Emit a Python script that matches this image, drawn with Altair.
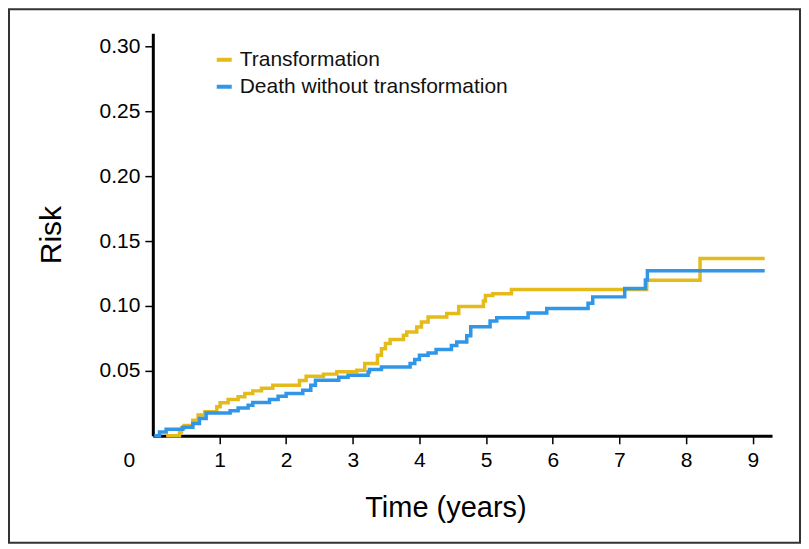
import altair as alt
import pandas as pd

# Cumulative incidence (step functions)
trans_time = [0.20, 0.40, 0.43, 0.47, 0.60, 0.68, 0.78, 0.96, 1.01, 1.13, 1.28, 1.38,
              1.50, 1.63, 1.80, 2.20, 2.30, 2.56, 2.76, 3.06, 3.18, 3.37, 3.43, 3.49,
              3.56, 3.76, 3.81, 3.96, 4.03, 4.13, 4.41, 4.59, 4.96, 4.99, 5.10, 5.38,
              7.41, 8.21, 9.18]
trans_risk = [0.000, 0.003, 0.006, 0.008, 0.012, 0.016, 0.0185, 0.0223, 0.0254, 0.028, 0.030, 0.0326,
              0.0346, 0.0367, 0.039, 0.0425, 0.0458, 0.0475, 0.0493, 0.0505, 0.0557, 0.062, 0.067, 0.071,
              0.0742, 0.0775, 0.080, 0.0838, 0.0877, 0.0915, 0.0942, 0.0995, 0.1038, 0.108, 0.1095, 0.1127,
              0.1198, 0.1366, 0.1366]

death_time = [0.02, 0.10, 0.20, 0.45, 0.60, 0.70, 0.80, 1.16, 1.28, 1.43, 1.50, 1.75,
              1.88, 2.00, 2.25, 2.37, 2.44, 2.79, 2.93, 3.23, 3.25, 3.43, 3.86, 3.93,
              4.00, 4.13, 4.25, 4.48, 4.56, 4.71, 4.77, 5.06, 5.16, 5.63, 5.91, 6.53,
              6.60, 7.08, 7.39, 7.42, 9.18]
death_risk = [0.000, 0.003, 0.005, 0.0065, 0.0095, 0.0134, 0.0175, 0.0192, 0.0215, 0.0236, 0.0257, 0.028,
              0.0305, 0.0326, 0.035, 0.039, 0.0428, 0.045, 0.0467, 0.0492, 0.051, 0.053, 0.0557, 0.0588,
              0.062, 0.0638, 0.0665, 0.0695, 0.0723, 0.077, 0.084, 0.0885, 0.091, 0.0945, 0.098, 0.102,
              0.107, 0.1135, 0.120, 0.1272, 0.1272]

series_names = ["Transformation", "Death without transformation"]
series_colors = ["#E4BB1B", "#3196E6"]

x_ticks = [0, 1, 2, 3, 4, 5, 6, 7, 8, 9]
y_ticks = [0.05, 0.10, 0.15, 0.20, 0.25, 0.30]

df = pd.concat([
    pd.DataFrame({"time": trans_time, "risk": trans_risk, "series": series_names[0], "order": 0}),
    pd.DataFrame({"time": death_time, "risk": death_risk, "series": series_names[1], "order": 1}),
], ignore_index=True)

FONT = "Liberation Sans"
W, H = 620, 403

lines = alt.Chart(df).mark_line(interpolate="step-after", strokeWidth=3.5, clip=False).encode(
    x=alt.X("time:Q",
            scale=alt.Scale(domain=[0, 9.29], nice=False, zero=False),
            axis=alt.Axis(values=x_ticks, title="Time (years)", grid=False,
                          domainColor="black", domainWidth=3,
                          tickColor="black", tickWidth=1.5, tickSize=8,
                          tickOpacity={"condition": {"test": "datum.value == 0", "value": 0}, "value": 1},
                          labelOffset={"condition": {"test": "datum.value == 0", "value": -24}, "value": 0},
                          labelFlush=False,
                          labelFont=FONT, labelFontSize=21, labelColor="black", labelPadding=6,
                          titleFont=FONT, titleFontSize=29, titleFontWeight="normal", titleColor="black",
                          titleX=293, titleY=81, titleBaseline="alphabetic", titleAnchor="start",
                          titleAlign="center")),
    y=alt.Y("risk:Q",
            scale=alt.Scale(domain=[0, 0.31], nice=False),
            axis=alt.Axis(values=y_ticks, format=".2f", title="Risk", grid=False,
                          domainColor="black", domainWidth=3,
                          tickColor="black", tickWidth=1.5, tickSize=8,
                          labelFont=FONT, labelFontSize=21, labelColor="black", labelPadding=5,
                          titleFont=FONT, titleFontSize=30, titleFontWeight="normal", titleColor="black",
                          titleX=-92, titleBaseline="alphabetic")),
    color=alt.Color("series:N",
                    scale=alt.Scale(domain=series_names, range=series_colors),
                    legend=alt.Legend(title=None, orient="none", legendX=61, legendY=16,
                                      symbolType="stroke", symbolSize=225, symbolStrokeWidth=4,
                                      labelFont=FONT, labelFontSize=21, labelColor="#111",
                                      labelLimit=0,
                                      labelOffset=5, rowPadding=5, padding=0)),
    order="order:Q",
    detail="series:N",
)

frame = alt.Chart(pd.DataFrame({"a": [0]})).mark_rect(
    fill=None, stroke="#333", strokeWidth=2, clip=False
).encode(
    x=alt.value(-144), x2=alt.value(W + 28), y=alt.value(-24), y2=alt.value(H + 107)
)

chart = alt.layer(lines, frame).properties(
    width=W, height=H,
    background="white",
    padding={"left": 145, "top": 25, "right": 29, "bottom": 108},
    autosize=alt.AutoSizeParams(type="none"),
).configure_view(strokeWidth=0, stroke="transparent")

chart.save("out.html", embed_options={"renderer": "svg", "actions": False})
